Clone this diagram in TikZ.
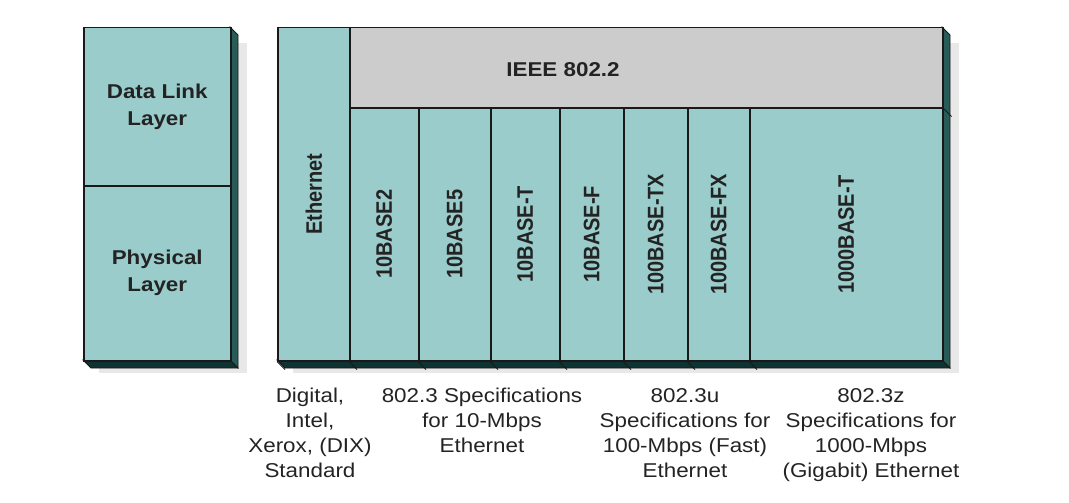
\documentclass[tikz,border=0pt]{standalone}
\usepackage{fontspec}
\setmainfont{Liberation Sans}
\usepackage{graphicx}
\definecolor{tealc}{RGB}{155,204,204}
\definecolor{grayc}{RGB}{204,204,204}
\definecolor{sidec}{RGB}{40,92,88}
\definecolor{botc}{RGB}{15,50,50}
\definecolor{shadowc}{RGB}{232,232,232}
\definecolor{linec}{RGB}{25,25,25}
\definecolor{textc}{RGB}{35,35,35}
\newcommand{\hs}[1]{\scalebox{1.12}[1]{#1}}
\newcommand{\vs}[1]{\scalebox{1.12}[1]{\rotatebox{90}{#1}}}
\begin{document}
\begin{tikzpicture}[x=1pt,y=-1pt,
  cell/.style={draw=linec, line width=1.5pt, fill=tealc, anchor=north west, inner sep=0pt, text=textc,
    font=\bfseries\fontsize{20}{27}\selectfont, align=center},
  ieeecell/.style={cell, fill=grayc},
  lbl/.style={inner sep=0pt, text=textc, font=\bfseries\fontsize{20}{27}\selectfont},
  note/.style={inner sep=0pt, anchor=north, text=textc, font=\fontsize{20}{25}\selectfont},
  shadowbox/.style={fill=shadowc},
  sideface/.style={fill=sidec, draw=linec, line width=0.8pt},
  botface/.style={fill=botc, draw=linec, line width=0.8pt},
  edgemark/.style={draw=linec, line width=0.8pt}]
\useasboundingbox (0,0) rectangle (1069,503);
% soft shadows
\fill[shadowbox] (99,43) rectangle (247,373);
\fill[shadowbox] (293,43) rectangle (959,373);
% 3D faces of the left box
\path[sideface] (230,27) -- (238,35) -- (238,368) -- (230,360) -- cycle;
\path[botface] (83,360) -- (230,360) -- (238,368) -- (91,368) -- cycle;
% 3D faces of the right box
\path[sideface] (942,27) -- (950,35) -- (950,368) -- (942,360) -- cycle;
\path[botface] (277,360) -- (942,360) -- (950,368) -- (285,368) -- cycle;
% left box cells
\node[cell, minimum width=147, minimum height=158] (dll) at (83,27) {\hs{Data Link}\\\hs{Layer}};
\node[cell, minimum width=147, minimum height=175] (phy) at (83,185) {\hs{Physical}\\\hs{Layer}};
% right box cells
\node[cell, minimum width=72, minimum height=333] (eth) at (277,27) {\vs{Ethernet}};
\node[ieeecell, minimum width=593, minimum height=80] (ieee) at (349,27) {};
\node[lbl] (ieeetext) at (563,70) {\hs{IEEE 802.2}};
\node[cell, minimum width=69, minimum height=253] (b2) at (349,107) {\vs{10BASE2}};
\node[cell, minimum width=72, minimum height=253] (b5) at (418,107) {\vs{10BASE5}};
\node[cell, minimum width=69, minimum height=253] (bt) at (490,107) {\vs{10BASE-T}};
\node[cell, minimum width=64, minimum height=253] (bf) at (559,107) {\vs{10BASE-F}};
\node[cell, minimum width=64, minimum height=253] (btx) at (623,107) {\vs{100BASE-TX}};
\node[cell, minimum width=62, minimum height=253] (bfx) at (687,107) {\vs{100BASE-FX}};
\node[cell, minimum width=193, minimum height=253] (gt) at (749,107) {\vs{1000BASE-T}};
% small marks on the 3D faces
\foreach \n in {b2,b5,bt,bf,btx,bfx,gt}{
  \draw[edgemark] (\n.south west) -- ++(8,8);
}
\draw[edgemark] (ieee.south east) -- ++(8,8);
\draw[edgemark] (eth.south west) -- ++(8,8);
% bottom notes
\node[note] (dix) at (310,384.5) {\begin{tabular}{@{}c@{}}\hs{Digital,}\\\hs{Intel,}\\\hs{Xerox, (DIX)}\\\hs{Standard}\end{tabular}};
\node[note] (s10) at (482,384.5) {\begin{tabular}{@{}c@{}}\hs{802.3 Specifications}\\\hs{for 10-Mbps}\\\hs{Ethernet}\end{tabular}};
\node[note] (s100) at (685,384.5) {\begin{tabular}{@{}c@{}}\hs{802.3u}\\\hs{Specifications for}\\\hs{100-Mbps (Fast)}\\\hs{Ethernet}\end{tabular}};
\node[note] (s1000) at (871,384.5) {\begin{tabular}{@{}c@{}}\hs{802.3z}\\\hs{Specifications for}\\\hs{1000-Mbps}\\\hs{(Gigabit) Ethernet}\end{tabular}};
\end{tikzpicture}
\end{document}
